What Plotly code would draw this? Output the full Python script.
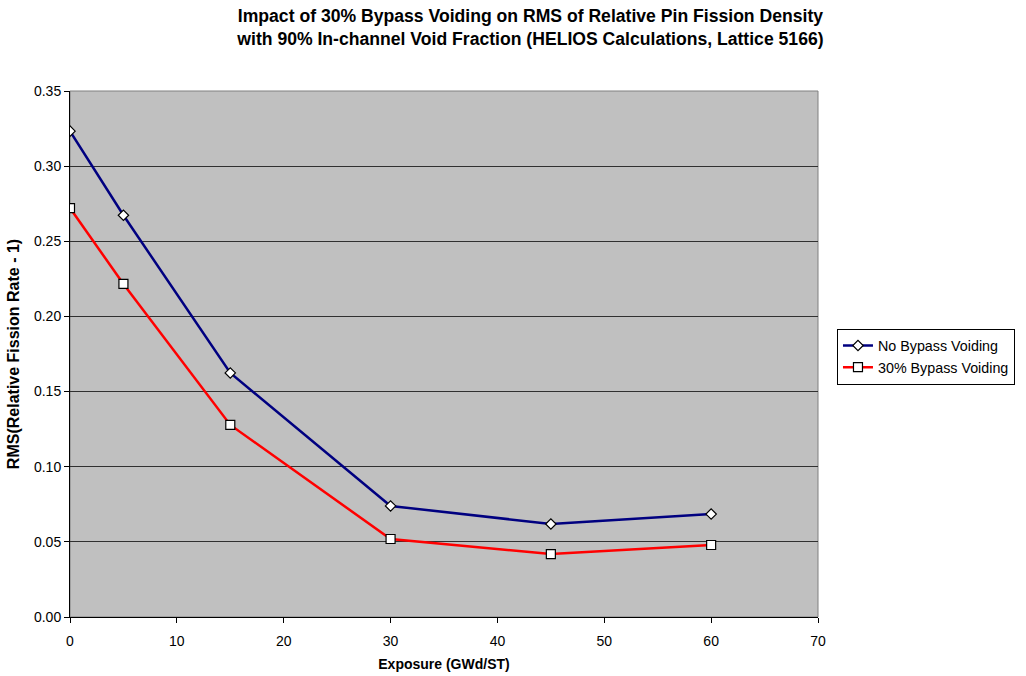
import plotly.graph_objects as go

exposure = [0, 5, 15, 30, 45, 60]
no_bypass = [0.3233, 0.2673, 0.1624, 0.0739, 0.0619, 0.0685]
bypass30 = [0.2721, 0.2216, 0.1278, 0.0519, 0.0419, 0.0479]

fig = go.Figure()
fig.add_trace(go.Scatter(
    x=exposure, y=no_bypass, name="No Bypass Voiding", mode="lines+markers",
    line=dict(color="#000080", width=2.5),
    marker=dict(symbol="diamond", size=8, color="white", line=dict(color="black", width=1.2)),
))
fig.add_trace(go.Scatter(
    x=exposure, y=bypass30, name="30% Bypass Voiding", mode="lines+markers",
    line=dict(color="#FF0000", width=2.5),
    marker=dict(symbol="square", size=9, color="white", line=dict(color="black", width=1.2)),
))

fig.update_layout(
    width=1026, height=676,
    paper_bgcolor="white", plot_bgcolor="#C0C0C0",
    margin=dict(l=70, r=207, t=91, b=59),
    font=dict(family="Liberation Sans, Arial, sans-serif", size=14, color="black"),
    title=dict(
        text="<b>Impact of 30% Bypass Voiding on RMS of Relative Pin Fission Density<br>with 90% In-channel Void Fraction (HELIOS Calculations, Lattice 5166)</b>",
        x=0.517, xanchor="center", y=0.968, yanchor="middle",
        font=dict(size=17.6),
    ),
    legend=dict(
        x=1.024, xanchor="left", y=0.548, yanchor="top",
        bordercolor="black", borderwidth=1, bgcolor="white",
        font=dict(size=14.3),
    ),
    xaxis=dict(
        range=[0, 70], tickmode="linear", dtick=10, ticks="outside", ticklen=5,
        tickcolor="black", showline=True, linecolor="black", linewidth=1,
        showgrid=False, zeroline=False, mirror=False, ticklabelstandoff=6,
        automargin=False,
        title=dict(text="<b>Exposure (GWd/ST)</b>", font=dict(size=14), standoff=11),
    ),
    yaxis=dict(
        range=[0, 0.35], tickmode="linear", dtick=0.05, tickformat=".2f",
        ticks="outside", ticklen=5, tickcolor="black",
        showline=True, linecolor="black", linewidth=1, automargin=False,
        showgrid=True, gridcolor="#303030", gridwidth=1, zeroline=False,
        title=dict(text="<b>RMS(Relative Fission Rate - 1)</b>", font=dict(size=16), standoff=10),
    ),
)
fig.add_shape(type="rect", xref="paper", yref="paper", x0=0, y0=0, x1=1, y1=1,
              line=dict(color="#808080", width=1), layer="below")

fig.write_html("out.html")
